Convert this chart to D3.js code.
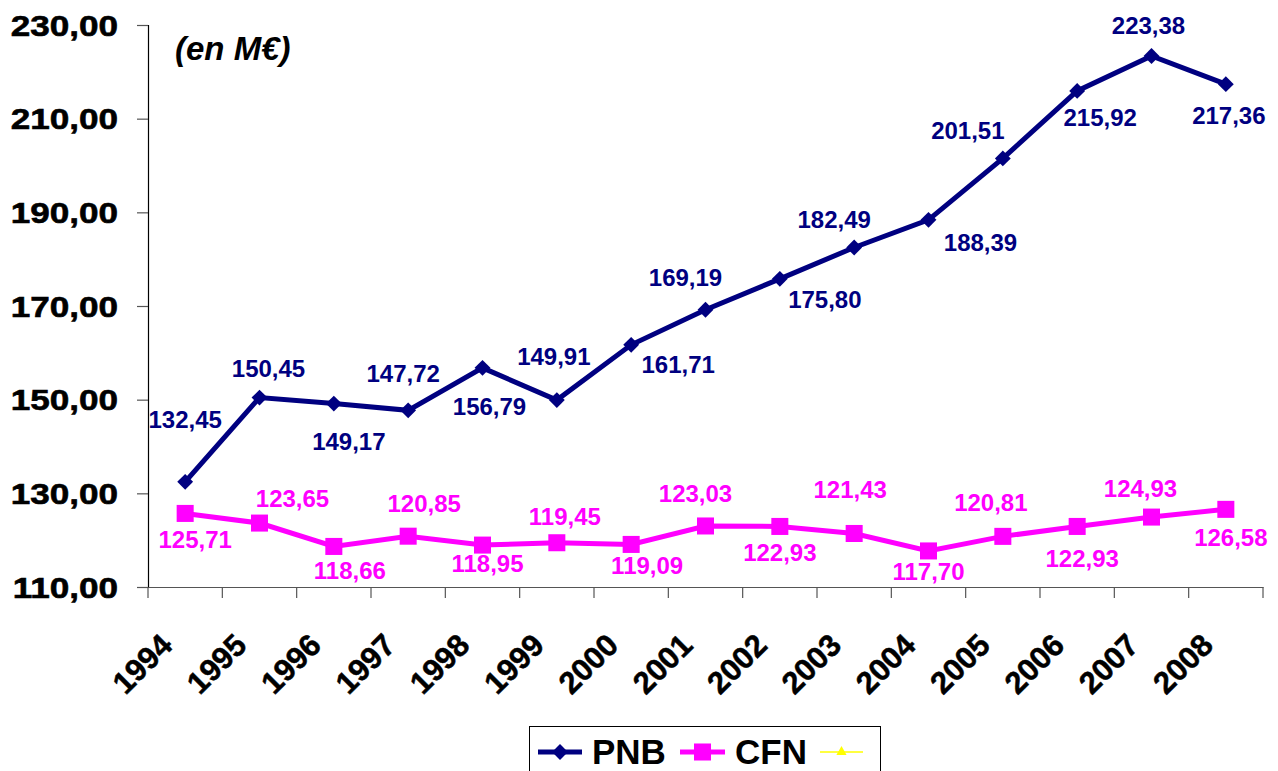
<!DOCTYPE html>
<html>
<head>
<meta charset="utf-8">
<script src="https://cdn.jsdelivr.net/npm/d3@7"></script>
<style>
  html, body { margin: 0; padding: 0; background: #fff; }
  svg { display: block; font-family: "Liberation Sans", Arial, sans-serif; }
</style>
</head>
<body>
<div id="chart"></div>
<script>
const years = ['1994', '1995', '1996', '1997', '1998', '1999', '2000', '2001',
  '2002', '2003', '2004', '2005', '2006', '2007', '2008'];
const pnb = [132.45, 150.45, 149.17, 147.72, 156.79, 149.91, 161.71, 169.19,
  175.80, 182.49, 188.39, 201.51, 215.92, 223.38, 217.36];
const cfn = [125.71, 123.65, 118.66, 120.85, 118.95, 119.45, 119.09, 123.03,
  122.93, 121.43, 117.70, 120.81, 122.93, 124.93, 126.58];
const yTicks = [110, 130, 150, 170, 190, 210, 230];

// where each data label sits relative to its point (layout only, px)
const pnbLabelOffset = [[0, -54], [9, -21], [15, 46], [-5, -28], [7, 47], [-3, -35], [47, 28],
  [-20, -24], [45, 29], [-20, -20], [52, 31], [-35, -19], [23, 35], [-3, -22], [3, 40]];
const cfnLabelOffset = [[10, 35], [33, -16], [16, 33], [16, -24], [5, 27], [8, -18], [16, 30],
  [-10, -24], [0, 35], [-4, -35], [0, 29], [-12, -25], [5, 41], [-11, -20], [5, 37]];

const width = 1278;
const height = 771;
const plot = { left: 148, right: 1263, top: 25, bottom: 587 };

const fmt = (v) => v.toFixed(2).replace('.', ',');

const svg = d3.select('#chart').append('svg')
  .attr('width', width)
  .attr('height', height);

const x = d3.scaleBand()
  .domain(years)
  .range([plot.left, plot.right])
  .padding(0);

const y = d3.scaleLinear()
  .domain([110, 230])
  .range([plot.bottom, plot.top]);

const cx = (d, i) => x(years[i]) + x.bandwidth() / 2;

// y axis
const yAxis = d3.axisLeft(y)
  .tickValues(yTicks)
  .tickSize(11)
  .tickFormat(fmt);

const gy = svg.append('g')
  .attr('transform', `translate(${plot.left},0)`)
  .call(yAxis);
gy.select('.domain').attr('stroke', '#000').attr('stroke-width', 1.2);
gy.selectAll('.tick line').attr('stroke', '#555').attr('stroke-width', 1.2);
gy.selectAll('.tick text')
  .attr('x', 0)
  .attr('dy', null)
  .attr('y', 0)
  .attr('fill', '#000')
  .attr('stroke', '#000')
  .attr('stroke-width', 0.6)
  .style('font-size', '30px')
  .style('font-weight', 'bold')
  .attr('text-anchor', 'end')
  .attr('transform', 'translate(-30,10) scale(1.17,1)');

// x axis, ticks on the category boundaries
const xAxis = d3.axisBottom(x).tickSize(0).tickFormat('');
const gx = svg.append('g')
  .attr('transform', `translate(0,${plot.bottom})`)
  .call(xAxis);
gx.select('.domain').attr('stroke', '#555').attr('stroke-width', 1.2);
gx.selectAll('.bound')
  .data(years.concat(['end']))
  .enter().append('line')
  .attr('class', 'bound')
  .attr('x1', (d, i) => plot.left + i * x.bandwidth())
  .attr('x2', (d, i) => plot.left + i * x.bandwidth())
  .attr('y1', 0)
  .attr('y2', 11)
  .attr('stroke', '#555')
  .attr('stroke-width', 1.2);

svg.append('g')
  .selectAll('text')
  .data(years)
  .enter().append('text')
  .attr('transform', (d) => `translate(${x(d) + x.bandwidth() / 2 - 11},647) rotate(-45)`)
  .attr('text-anchor', 'end')
  .style('font-size', '31px')
  .style('font-weight', 'bold')
  .attr('fill', '#000')
  .attr('stroke', '#000')
  .attr('stroke-width', 0.5)
  .text((d) => d);

// unit note
svg.append('text')
  .attr('x', 175)
  .attr('y', 60)
  .style('font-size', '33px')
  .style('font-weight', 'bold')
  .style('font-style', 'italic')
  .attr('fill', '#000')
  .text('(en M€)');

const line = d3.line()
  .x(cx)
  .y((d) => y(d));

const drawSeries = (values, color, shape, offsets) => {
  const g = svg.append('g');
  g.append('path')
    .datum(values)
    .attr('d', line)
    .attr('fill', 'none')
    .attr('stroke', color)
    .attr('stroke-width', 5)
    .attr('stroke-linejoin', 'miter');
  g.selectAll('.mark')
    .data(values)
    .enter().append('path')
    .attr('class', 'mark')
    .attr('d', shape)
    .attr('transform', (d, i) => `translate(${cx(d, i)},${y(d)})`)
    .attr('fill', color);
  g.selectAll('.lbl')
    .data(values)
    .enter().append('text')
    .attr('class', 'lbl')
    .attr('x', (d, i) => cx(d, i) + offsets[i][0])
    .attr('y', (d, i) => y(d) + offsets[i][1])
    .attr('text-anchor', 'middle')
    .style('font-size', '24px')
    .style('font-weight', 'bold')
    .attr('fill', color)
    .text(fmt);
};

const diamond = d3.symbol().type(d3.symbolDiamond2).size(160)();
const square = d3.symbol().type(d3.symbolSquare).size(290)();

drawSeries(pnb, '#000080', diamond, pnbLabelOffset);
drawSeries(cfn, '#ff00ff', square, cfnLabelOffset);

// legend
const legend = svg.append('g');
legend.append('rect')
  .attr('x', 529.5)
  .attr('y', 726.5)
  .attr('width', 351)
  .attr('height', 60)
  .attr('fill', '#fff')
  .attr('stroke', '#000')
  .attr('stroke-width', 1);

const legendItems = [
  { name: 'PNB', color: '#000080', shape: diamond, x: 538, w: 44, stroke: 5 },
  { name: 'CFN', color: '#ff00ff', shape: square, x: 680, w: 45, stroke: 5 },
  { name: '', color: '#ffff00', shape: d3.symbol().type(d3.symbolTriangle).size(45)(), x: 820, w: 43, stroke: 1.5 },
];

legendItems.forEach((it) => {
  legend.append('line')
    .attr('x1', it.x).attr('x2', it.x + it.w)
    .attr('y1', 752).attr('y2', 752)
    .attr('stroke', it.color)
    .attr('stroke-width', it.stroke);
  legend.append('path')
    .attr('d', it.shape)
    .attr('transform', `translate(${it.x + it.w / 2},752)`)
    .attr('fill', it.color);
  if (it.name) {
    legend.append('text')
      .attr('x', it.x + it.w + 10)
      .attr('y', 764)
      .style('font-size', '35px')
      .style('font-weight', 'bold')
      .attr('fill', '#000')
      .text(it.name);
  }
});
</script>
</body>
</html>
